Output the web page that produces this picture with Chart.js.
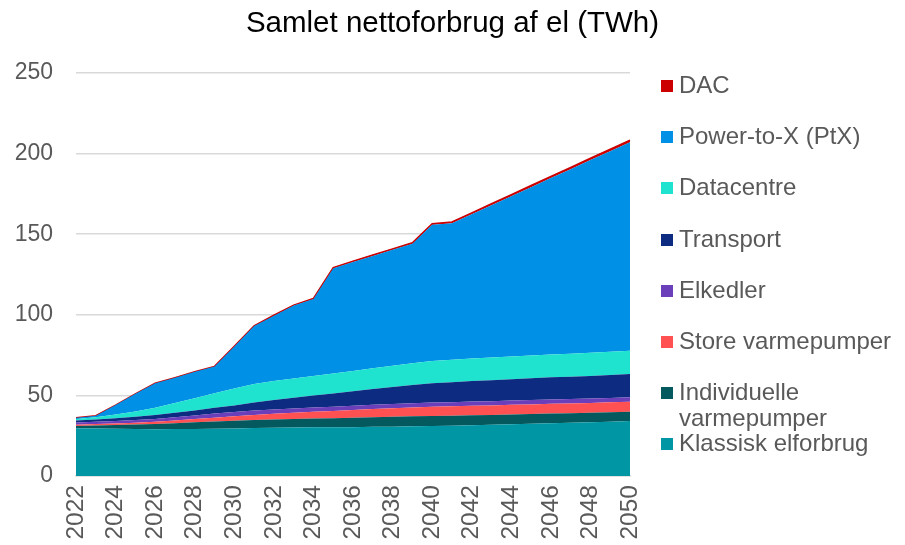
<!DOCTYPE html>
<html>
<head>
<meta charset="utf-8">
<script src="https://cdn.jsdelivr.net/npm/chart.js@4"></script>
<style>
  html, body { margin: 0; padding: 0; background: #fff; }
  #wrap { position: relative; width: 905px; height: 545px; }
  #title { position: absolute; left: 0; top: 4px; width: 905px; text-align: center;
    font-family: "Liberation Sans", Arial, sans-serif; font-size: 29.5px; color: #000; line-height: 36px; }
  #legend { position: absolute; left: 661px; top: 72px; width: 240px;
    font-family: "Liberation Sans", Arial, sans-serif; font-size: 24px; color: #595959; }
  .item { position: relative; height: 51.2px; }
  .box { position: absolute; left: 0; top: 8px; width: 12px; height: 12px; }
  .txt { position: absolute; left: 18px; top: 0; line-height: 26px; width: 225px; white-space: normal; }
</style>
</head>
<body>
<div id="wrap">
  <canvas id="c" width="905" height="545"></canvas>
  <div id="title"></div>
  <div id="legend"></div>
</div>
<script>
const title = "Samlet nettoforbrug af el (TWh)";
const years = ["2022","2023","2024","2025","2026","2027","2028","2029","2030","2031","2032","2033","2034","2035","2036","2037","2038","2039","2040","2041","2042","2043","2044","2045","2046","2047","2048","2049","2050"];
const yTicks = [0, 50, 100, 150, 200, 250];

const klassisk    = [29.6,29.5,29.3,29.1,29.0,29.1,29.2,29.3,29.5,29.8,30.0,30.1,30.2,30.2,30.3,30.5,30.6,30.8,31.0,31.2,31.5,31.8,32.1,32.4,32.7,33.0,33.3,33.7,34.1];
const individuelle = [1.4,1.8,2.3,2.8,3.3,3.7,4.1,4.5,4.8,4.9,5.1,5.3,5.5,5.7,5.9,6.0,6.1,6.2,6.2,6.2,6.2,6.1,6.1,6.0,6.0,5.9,5.9,5.8,5.8];
const storeVP     = [0.8,0.9,1.0,1.2,1.4,1.7,2.0,2.4,2.7,3.2,3.5,3.8,4.1,4.4,4.7,5.0,5.3,5.5,5.8,5.8,5.9,5.9,6.0,6.0,6.1,6.1,6.1,6.2,6.2];
const elkedler    = [1.4,1.4,1.5,1.6,1.7,2.0,2.2,2.5,2.7,2.7,2.7,2.7,2.7,2.7,2.7,2.7,2.6,2.6,2.6,2.6,2.6,2.6,2.6,2.7,2.7,2.7,2.7,2.7,2.7];
const transport   = [1.2,1.4,1.7,2.0,2.4,2.8,3.2,3.6,4.1,5.0,5.8,6.6,7.4,8.2,9.0,9.8,10.6,11.4,12.0,12.4,12.7,13.0,13.2,13.5,13.7,13.9,14.1,14.3,14.5];
const datacentre  = [1.0,1.5,2.3,3.3,4.6,6.0,7.5,9.0,10.5,11.5,11.8,12.0,12.2,12.4,12.6,12.9,13.2,13.5,13.8,13.9,14.0,14.1,14.1,14.2,14.2,14.3,14.3,14.4,14.4];
const ptx         = [0.8,0.9,5.9,11.0,15.1,15.7,16.5,16.7,26.1,35.9,40.5,45.2,47.7,65.2,67.6,69.6,71.9,74.0,84.4,84.7,89.5,94.5,99.5,104.4,109.4,114.4,119.6,124.4,129.4];
const dac         = [0,0,0,0,0,0,0,0,0.1,0.2,0.3,0.3,0.4,0.5,0.5,0.6,0.6,0.7,0.7,0.8,0.8,0.9,0.9,1.0,1.0,1.1,1.1,1.2,1.3];

const seriesNames = ["Klassisk elforbrug","Individuelle varmepumper","Store varmepumper","Elkedler","Transport","Datacentre","Power-to-X (PtX)","DAC"];
const seriesData = [klassisk, individuelle, storeVP, elkedler, transport, datacentre, ptx, dac];
const seriesColors = ["#0096A4","#03595E","#FF5152","#6B3FBA","#0E2B82","#1FE3CF","#0090E6","#CC0000"];

const datasets = seriesNames.map((n, i) => ({
  label: n,
  data: seriesData[i],
  backgroundColor: seriesColors[i],
  borderColor: seriesColors[i],
  borderWidth: i === seriesNames.length - 1 ? 1.5 : 0,
  pointRadius: 0,
  tension: 0,
  fill: i === 0 ? 'origin' : '-1'
}));

const FONT = '"Liberation Sans", Arial, sans-serif';
document.getElementById('title').textContent = title;

new Chart(document.getElementById('c'), {
  type: 'line',
  data: { labels: years, datasets },
  options: {
    responsive: false,
    animation: false,
    layout: { padding: { left: 15, right: 275, top: 73, bottom: 0 } },
    plugins: {
      legend: { display: false },
      tooltip: { enabled: false },
      title: { display: false }
    },
    scales: {
      x: {
        offset: false,
        grid: { display: false, drawTicks: false },
        border: { display: true, color: '#d9d9d9', width: 1.5 },
        ticks: {
          autoSkip: false, maxRotation: 90, minRotation: 90, padding: 9,
          color: '#595959', font: { family: FONT, size: 24.5 },
          callback: function(v, i) { return i % 2 === 0 ? years[i] : ''; }
        },
        afterFit: (s) => { s.height = 69; }
      },
      y: {
        stacked: true,
        min: yTicks[0], max: yTicks[yTicks.length - 1],
        afterBuildTicks: (s) => { s.ticks = yTicks.map(v => ({ value: v })); },
        grid: { color: '#d9d9d9', lineWidth: 1.5, drawTicks: false },
        border: { display: false },
        ticks: { padding: 23, color: '#595959', font: { family: FONT, size: 23 } },
        afterFit: (s) => { s.width = 61; }
      }
    }
  }
});

const legend = document.getElementById('legend');
for (let i = seriesNames.length - 1; i >= 0; i--) {
  const it = document.createElement('div');
  it.className = 'item';
  const b = document.createElement('div');
  b.className = 'box'; b.style.background = seriesColors[i];
  const t = document.createElement('div');
  t.className = 'txt'; t.textContent = seriesNames[i];
  it.appendChild(b); it.appendChild(t);
  legend.appendChild(it);
}
</script>
</body>
</html>
